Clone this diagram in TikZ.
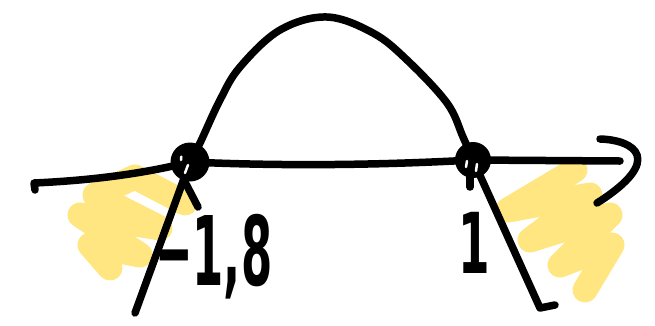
\documentclass[tikz,border=0pt]{standalone}
\usepackage{fontspec}
\newfontfamily\handfont{DejaVu Sans Condensed}
\definecolor{hl}{HTML}{FFE680}
\begin{document}
\begin{tikzpicture}[x=1pt,y=-1pt,
  ink/.style={line width=7.5pt, line cap=round, line join=round},
  hlstroke/.style={draw=hl, line width=25pt, line cap=round, line join=round},
  speck/.style={draw=white, line width=2.5pt, line cap=round},
  lbl/.style={font=\handfont\bfseries\fontsize{96}{96}\selectfont, anchor=base west, inner sep=0pt}]
\useasboundingbox (0,0) rectangle (655,325);
% yellow shading outside the roots
\draw[hlstroke] (185,203) -- (135,177) -- (95,195) -- (160,228) -- (80,215) -- (140,255) -- (90,245) -- (110,268);
\draw[hlstroke] (575,170) -- (508,210) -- (590,195) -- (530,240) -- (610,215) -- (560,265) -- (612,245) -- (585,290);
% roots
\coordinate (r1) at (190,162);
\coordinate (r2) at (473,160);
% axis
\draw[ink] (35,190) -- (34,183) .. controls (100,180) and (150,172) .. (r1) .. controls (300,167) and (400,164) .. (r2) -- (620,161);
% arrow head
\draw[ink] (600,139) .. controls (635,140) and (665,160) .. (597,203);
% parabola
\draw[ink] (135,313) -- (r1) plot[smooth, tension=0.6] coordinates {(190,162) (200,143) (220,100) (240,67) (280,30) (327,17) (373,33) (407,60) (447,103) (463,137) (473,160)} -- (540,308) -- (555,305);
% small strokes under the roots
\draw[ink] (185,182) -- (198,207);
\draw[ink] (470,172) -- (470,187);
% root markers
\fill (r1) circle[radius=19.5pt];
\draw[speck] ([xshift=-9pt,yshift=2pt]r1) arc[start angle=200, end angle=150, radius=4pt];
\draw[speck] ([xshift=-2pt,yshift=-3pt]r1) -- ++(-3,8);
\fill (r2) circle[radius=18pt];
\draw[speck] ([xshift=-6pt,yshift=-1pt]r2) -- ++(-1,6);
\draw[speck] ([xshift=4pt,yshift=-4pt]r2) -- ++(-1,7);
% labels
\node[lbl, xscale=0.52] (lab1) at (155,285) {−1,8};
\node[lbl, font=\handfont\bfseries\fontsize{84}{84}\selectfont, xscale=0.6] (lab2) at (458,273) {1};
\end{tikzpicture}
\end{document}
